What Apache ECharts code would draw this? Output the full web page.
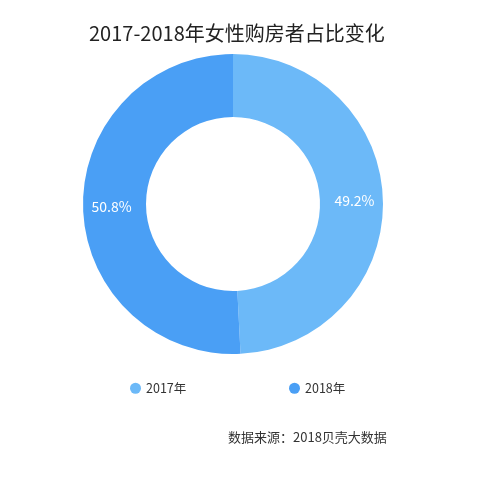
<!DOCTYPE html>
<html>
<head>
<meta charset="utf-8">
<script src="https://cdn.jsdelivr.net/npm/echarts@6/dist/echarts.min.js"></script>
<style>
  html, body { margin: 0; padding: 0; background: #fff; }
  #chart { width: 480px; height: 480px; }
</style>
</head>
<body>
<div id="chart"></div>
<script>
// share of female home buyers, 2017 vs 2018
const years = ['2017年', '2018年'];
const shares = [49.2, 50.8];
const colors = ['#6cb9f8', '#4a9ff5'];

const chart = echarts.init(document.getElementById('chart'));
const font = '"Noto Sans CJK SC", "Noto Sans", sans-serif';

chart.setOption({
  animation: false,
  backgroundColor: '#fff',
  textStyle: { fontFamily: font },
  title: {
    text: '2017-2018年女性购房者占比变化',
    left: 84, top: 18,
    textStyle: { fontSize: 20, fontWeight: 'normal', color: '#222', fontFamily: font }
  },
  legend: years.map(function (y, i) {
    return {
      data: [y],
      left: i === 0 ? 125 : 284, top: 377,
      icon: 'circle', itemWidth: 11, itemHeight: 11, itemGap: 8,
      textStyle: { fontSize: 12.5, color: '#333', fontFamily: font }
    };
  }),
  graphic: [{
    type: 'text', left: 228, top: 431,
    style: { text: '数据来源：2018贝壳大数据', fill: '#333', font: '13px ' + font }
  }],
  series: [{
    type: 'pie',
    center: [233, 204],
    radius: [87, 150],
    startAngle: 90,
    clockwise: true,
    label: {
      position: 'inside', color: '#fff', fontSize: 14, fontFamily: font,
      formatter: function (p) { return p.value.toFixed(1) + '%'; }
    },
    labelLine: { show: false },
    emphasis: { disabled: true },
    data: years.map(function (y, i) {
      return { name: y, value: shares[i], itemStyle: { color: colors[i] } };
    })
  }]
});
</script>
</body>
</html>
